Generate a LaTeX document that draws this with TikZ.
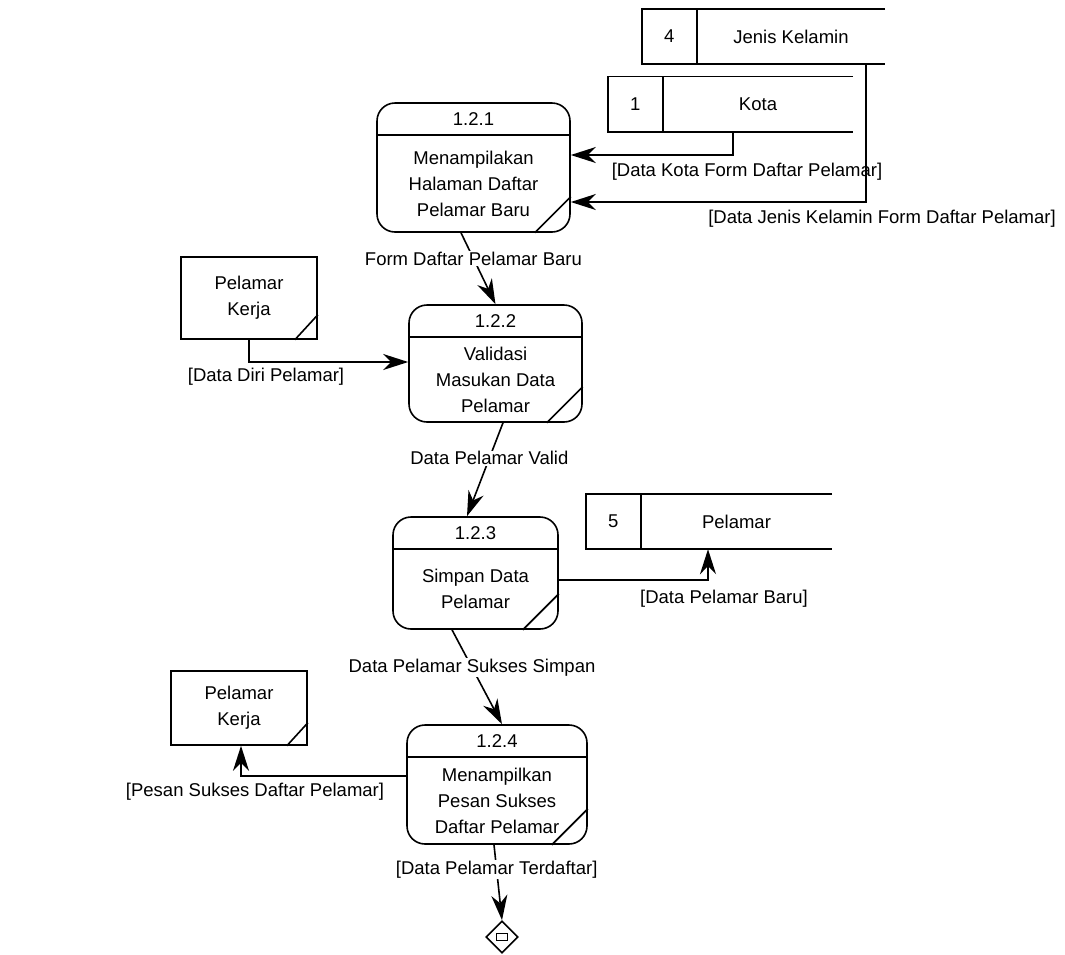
\documentclass[tikz,border=0pt]{standalone}
\usepackage{fontspec}
\setmainfont{Liberation Sans}
\usetikzlibrary{arrows.meta,shapes.geometric,positioning,calc}

\tikzset{
  every node/.style={font=\fontsize{18.5}{26}\selectfont},
  proc/.style={draw, rounded corners=18pt, line width=1.6pt, inner sep=0pt},
  ent/.style={draw, line width=1.6pt, inner sep=0pt, align=center},
  store/.style={inner sep=0pt},
  edge line/.style={line width=1.6pt},
  flow/.style={line width=1.6pt, -{Stealth[length=25pt,width=16pt,inset=8pt]}},
  lbl/.style={fill=white, inner sep=1pt},
}

\begin{document}
\begin{tikzpicture}[x=1pt,y=-1pt]
    \useasboundingbox (0,0) rectangle (1065,954);

    % Data stores
    \foreach \s/\n/\t/\x/\y/\w in {sJK/4/Jenis Kelamin/763.5/36.5/243,
                                   sKota/1/Kota/730.5/104/245,
                                   sPel/5/Pelamar/709/521.5/246}
    {
      \node[store, minimum width=\w pt, minimum height=55pt] (\s) at (\x,\y) {};
      \draw[edge line] (\s.north east) -- (\s.north west) -- (\s.south west) -- (\s.south east);
      \draw[edge line] ([xshift=55pt]\s.north west) -- ([xshift=55pt]\s.south west);
      \node (\s-no) at ([xshift=27.5pt]\s.west) {\n};
      \node (\s-name) at ($([xshift=55pt]\s.west)!0.5!(\s.east)$) {\t};
    }

    % Processes
    \foreach \p/\pno/\x/\y/\w/\h/\txt in {
      p121/1.2.1/473.5/167.5/193/129/{Menampilakan\\Halaman Daftar\\Pelamar Baru},
      p122/1.2.2/495.5/363.5/173/117/{Validasi\\Masukan Data\\Pelamar},
      p123/1.2.3/475.5/573/165/112/{Simpan Data\\Pelamar},
      p124/1.2.4/497/784.5/180/119/{Menampilkan\\Pesan Sukses\\Daftar Pelamar}}
    {
      \node[proc, minimum width=\w pt, minimum height=\h pt] (\p) at (\x,\y) {};
      \draw[edge line] ([yshift=-33pt]\p.north west) -- ([yshift=-33pt]\p.north east);
      \draw[edge line] ([xshift=-36pt]\p.south east) -- ([yshift=36pt]\p.south east);
      \node (\p-no) at ([yshift=-17pt]\p.north) {\pno};
      \node[align=center] (\p-txt) at ([yshift=-16pt]\p.center) {\txt};
    }

    % External entities
    \node[ent, minimum width=136pt, minimum height=82pt] (kerja1) at (249,298) {Pelamar\\Kerja};
    \draw[edge line] ([xshift=-23pt]kerja1.south east) -- ([yshift=25pt]kerja1.south east);
    \node[ent, minimum width=136pt, minimum height=74pt] (kerja2) at (239,708) {Pelamar\\Kerja};
    \draw[edge line] ([xshift=-21pt]kerja2.south east) -- ([yshift=23pt]kerja2.south east);

    % End point
    \node[draw, diamond, minimum size=32pt, inner sep=0pt, line width=1.6pt] (end) at (502,937) {};
    \draw[line width=1.2pt] ([xshift=-5.5pt,yshift=-3.5pt]end.center) rectangle ([xshift=5.5pt,yshift=3.5pt]end.center);

    % Data flows
    \draw[flow] ([xshift=2.5pt]sKota.south) |- ([yshift=12.5pt]p121.east);
    \draw[flow] ([xshift=102.5pt]sJK.south) |- ([yshift=-34.5pt]p121.east);
    \draw[flow] ([xshift=-12.5pt]p121.south) -- node[lbl, pos=0.36] (lForm) {Form Daftar Pelamar Baru} (p122.north);
    \draw[flow] (kerja1.south) |- ([yshift=1.5pt]p122.west);
    \draw[flow] ([xshift=7.5pt]p122.south) -- node[lbl, pos=0.38] (lValid) {Data Pelamar Valid} ([xshift=-8.5pt]p123.north);
    \draw[flow] ([yshift=-7pt]p123.east) -| ([xshift=-1pt]sPel.south);
    \draw[flow] ([xshift=-23.5pt]p123.south) -- node[lbl, pos=0.4] (lSukses) {Data Pelamar Sukses Simpan} ([xshift=5pt]p124.north);
    \draw[flow] ([yshift=8.5pt]p124.west) -| ([xshift=2pt]kerja2.south);
    \draw[flow] ([xshift=-3pt]p124.south) -- node[lbl, pos=0.33] (lTerdaftar) {[Data Pelamar Terdaftar]} (end.north);

    % Flow labels
    \node (lKota) at (747,172) {[Data Kota Form Daftar Pelamar]};
    \node (lJK) at (882,219) {[Data Jenis Kelamin Form Daftar Pelamar]};
    \node (lDiri) at (266,377) {[Data Diri Pelamar]};
    \node (lBaru) at (724,599) {[Data Pelamar Baru]};
    \node (lPesan) at (255,792) {[Pesan Sukses Daftar Pelamar]};

\end{tikzpicture}
\end{document}
